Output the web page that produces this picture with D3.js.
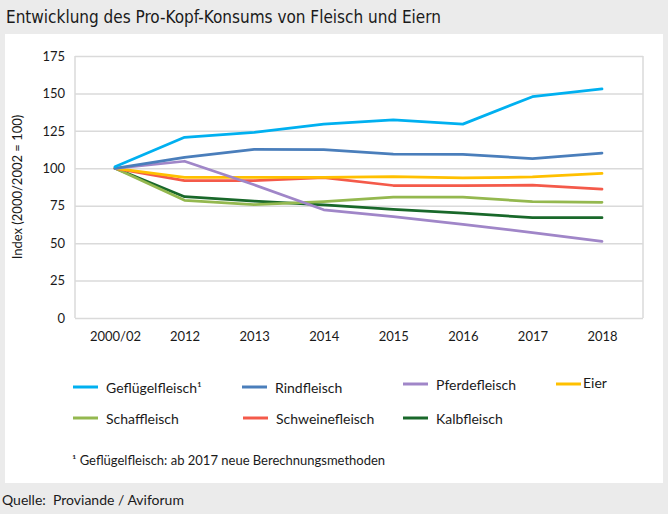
<!DOCTYPE html>
<html><head><meta charset="utf-8">
<script src="https://cdn.jsdelivr.net/npm/d3@7"></script>
<style>
html,body{margin:0;padding:0;background:#ebebeb;}
svg{display:block;}
</style>
</head><body>
<svg id="chart" width="668" height="514"></svg>
<script>
const categories = ["2000/02","2012","2013","2014","2015","2016","2017","2018"];
const yTicks = [0,25,50,75,100,125,150,175];
const seriesNames = ["Geflügelfleisch","Rindfleisch","Pferdefleisch","Eier","Schaffleisch","Schweinefleisch","Kalbfleisch"];
const gefluegel = [101,120.7,124,129.5,132.3,129.5,147.8,153];
const rind      = [100,107.3,112.7,112.5,109.5,109.3,106.5,110.2];
const pferd     = [100,104.7,89,72.3,67.7,62.6,57,51.2];
const eier      = [100,94,94,94,94.4,93.6,94.2,96.6];
const schaf     = [100,78.6,75.8,77.8,80.8,80.8,77.7,77.3];
const schwein   = [100,91.7,91.8,93.8,88.5,88.4,88.7,86];
const kalb      = [100,81,78,75.5,72.6,70,67,67];
const seriesValues = [gefluegel,rind,pferd,eier,schaf,schwein,kalb];
const colors = ["#00b0f0","#4a7ebb","#a086c8","#ffc000","#94b84f","#f45a4a","#19682a"];
const title = "Entwicklung des Pro-Kopf-Konsums von Fleisch und Eiern";
const yTitle = "Index (2000/2002 = 100)";
const footnote = "¹ Geflügelfleisch: ab 2017 neue Berechnungsmethoden";
const source = "Quelle:  Proviande / Aviforum";

const svg = d3.select("#chart");
const FONT = "Lato, 'Open Sans', sans-serif";

// background panels
svg.append("rect").attr("x",0).attr("y",0).attr("width",668).attr("height",514).attr("fill","#ebebeb");
svg.append("rect").attr("x",5).attr("y",34).attr("width",658).attr("height",449).attr("fill","#ffffff");

// title
svg.append("text").attr("x",6).attr("y",23).text(title)
  .attr("font-family","'Liberation Sans Narrow','DejaVu Sans Condensed',sans-serif")
  .attr("font-size",17).attr("font-weight",500).attr("fill","#1a1a1a");

const x = d3.scalePoint().domain(categories).range([115,602]);
const y = d3.scaleLinear().domain([0,175]).range([318,56]);
const left = 75, right = 643;

// gridlines
const yAxis = d3.axisLeft(y).tickValues(yTicks).tickSize(-(right-left)).tickPadding(10);
const gy = svg.append("g").attr("transform",`translate(${left},0)`).call(yAxis);
gy.select(".domain").remove();
gy.selectAll(".tick line").attr("stroke","#dadada").attr("stroke-width",1.5);
gy.selectAll(".tick text").attr("font-family",FONT).attr("font-size",13).attr("fill","#1a1a1a");

// plot borders (left/right)
svg.append("line").attr("x1",left).attr("x2",left).attr("y1",y(175)).attr("y2",y(0)).attr("stroke","#dadada").attr("stroke-width",1.5);
svg.append("line").attr("x1",right).attr("x2",right).attr("y1",y(175)).attr("y2",y(0)).attr("stroke","#dadada").attr("stroke-width",1.5);

// x axis labels
const xAxis = d3.axisBottom(x).tickSize(0).tickPadding(14);
const gx = svg.append("g").attr("transform",`translate(0,${y(0)})`).call(xAxis);
gx.select(".domain").remove();
gx.selectAll(".tick text").attr("font-family",FONT).attr("font-size",13).attr("fill","#1a1a1a");

// y title
svg.append("text").attr("transform","translate(22,187) rotate(-90)")
  .attr("text-anchor","middle").attr("font-family",FONT).attr("font-size",13).attr("fill","#1a1a1a").text(yTitle);

// lines
const line = d3.line().x((d,i)=>x(categories[i])).y(d=>y(d));
const drawOrder = [6,4,5,3,2,1,0];
drawOrder.forEach(i=>{
  svg.append("path").datum(seriesValues[i]).attr("d",line)
    .attr("fill","none").attr("stroke",colors[i]).attr("stroke-width",2.75)
    .attr("stroke-linejoin","round").attr("stroke-linecap","round");
});

// legend
const legendPos = [
  {sx:73, ty:387},
  {sx:242, ty:387},
  {sx:403, ty:384},
  {sx:556, ty:384, tight:true},
  {sx:73, ty:418},
  {sx:243, ty:418},
  {sx:403, ty:418}
];
seriesNames.forEach((n,i)=>{
  const p = legendPos[i];
  svg.append("line").attr("x1",p.sx).attr("x2",p.sx+25).attr("y1",p.ty).attr("y2",p.ty)
    .attr("stroke",colors[i]).attr("stroke-width",3);
  const t = svg.append("text").attr("x",p.sx + (p.tight?27:33)).attr("y",p.ty - (p.tight?2:0))
    .attr("dominant-baseline","central").attr("font-family",FONT).attr("font-size",14).attr("fill","#1a1a1a")
    .text(n);
  if(i===0) t.append("tspan").text("¹");
});

// footnote
svg.append("text").attr("x",72).attr("y",465).attr("font-family",FONT).attr("font-size",13).attr("fill","#1a1a1a").text(footnote);
// source
svg.append("text").attr("x",2).attr("y",505).attr("font-family",FONT).attr("font-size",14).attr("fill","#1a1a1a").style("white-space","pre").text(source);
</script>
</body></html>
